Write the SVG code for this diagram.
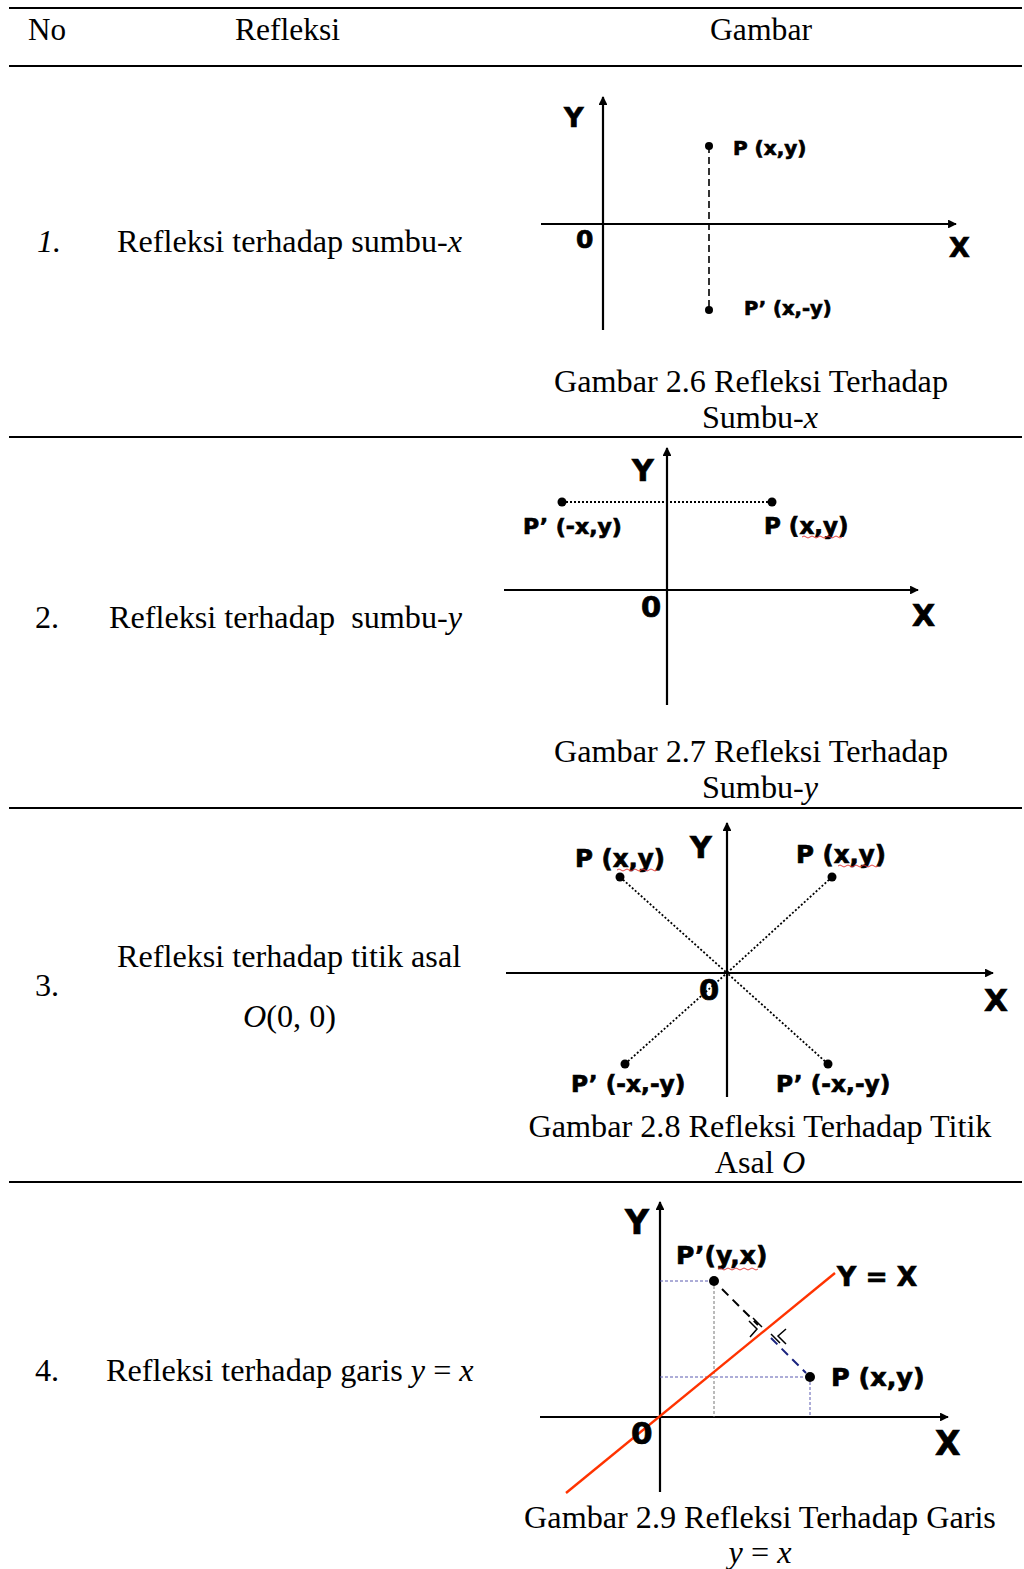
<svg xmlns="http://www.w3.org/2000/svg" width="1024" height="1569" viewBox="0 0 1024 1569">
<defs>
<style>
.rule{stroke:#000;stroke-width:2.2;fill:none}
.serif{font-family:"Liberation Serif","Times New Roman",serif;font-size:32.2px;fill:#000}
.it{font-style:italic}
.lab{font-family:"DejaVu Sans",Verdana,sans-serif;font-weight:bold;fill:#000;stroke:#000;stroke-width:0.7}
.ax{stroke:#000;stroke-width:2.2;fill:none}
.dot{fill:#000}
.sq{stroke:#e03030;stroke-width:0.9;fill:none}
</style>
<marker id="ah" viewBox="0 0 10 10" refX="9" refY="5" markerWidth="4" markerHeight="4" orient="auto" markerUnits="strokeWidth">
<path d="M0,0 L10,5 L0,10 z" fill="#000"/>
</marker>
</defs>
<rect width="1024" height="1569" fill="#fff"/>

<g id="table-rules">
<line class="rule" x1="9" y1="8" x2="1022" y2="8"/>
<line class="rule" x1="9" y1="66" x2="1022" y2="66"/>
<line class="rule" x1="9" y1="437" x2="1022" y2="437"/>
<line class="rule" x1="9" y1="808" x2="1022" y2="808"/>
<line class="rule" x1="9" y1="1182" x2="1022" y2="1182"/>
</g>

<g id="header">
<text class="serif" x="28" y="40" font-size="33" textLength="38" lengthAdjust="spacingAndGlyphs">No</text>
<text class="serif" x="235" y="40" font-size="33" textLength="105" lengthAdjust="spacingAndGlyphs">Refleksi</text>
<text class="serif" x="710" y="40" font-size="33" textLength="102" lengthAdjust="spacingAndGlyphs">Gambar</text>
</g>

<g id="row1-text">
<text class="serif it" x="37" y="252">1.</text>
<text class="serif" x="117" y="252">Refleksi terhadap sumbu-<tspan class="it">x</tspan></text>
<text class="serif" x="751" y="392" text-anchor="middle">Gambar 2.6 Refleksi Terhadap</text>
<text class="serif" x="760" y="428" text-anchor="middle">Sumbu-<tspan class="it">x</tspan></text>
</g>

<g id="row2-text">
<text class="serif" x="35" y="628">2.</text>
<text class="serif" x="109" y="628" xml:space="preserve">Refleksi terhadap  sumbu-<tspan class="it">y</tspan></text>
<text class="serif" x="751" y="762" text-anchor="middle">Gambar 2.7 Refleksi Terhadap</text>
<text class="serif" x="760" y="798" text-anchor="middle">Sumbu-<tspan class="it">y</tspan></text>
</g>

<g id="row3-text">
<text class="serif" x="35" y="996">3.</text>
<text class="serif" x="117" y="967">Refleksi terhadap titik asal</text>
<text class="serif" x="243" y="1027"><tspan class="it">O</tspan>(0, 0)</text>
<text class="serif" x="760" y="1137" text-anchor="middle">Gambar 2.8 Refleksi Terhadap Titik</text>
<text class="serif" x="760" y="1173" text-anchor="middle">Asal <tspan class="it">O</tspan></text>
</g>

<g id="row4-text">
<text class="serif" x="35" y="1381">4.</text>
<text class="serif" x="106" y="1381">Refleksi terhadap garis <tspan class="it">y</tspan> = <tspan class="it">x</tspan></text>
<text class="serif" x="760" y="1528" text-anchor="middle">Gambar 2.9 Refleksi Terhadap Garis</text>
<text class="serif" x="760" y="1563" text-anchor="middle"><tspan class="it">y</tspan> = <tspan class="it">x</tspan></text>
</g>

<!-- Graph 1 -->
<g id="graph1">
<line class="ax" x1="603" y1="330" x2="603" y2="97" marker-end="url(#ah)"/>
<line class="ax" x1="541" y1="224" x2="956" y2="224" marker-end="url(#ah)"/>
<line x1="709" y1="146" x2="709" y2="310" stroke="#000" stroke-width="1.6" stroke-dasharray="7 4"/>
<circle class="dot" cx="709" cy="146" r="4"/>
<circle class="dot" cx="709" cy="310" r="4"/>
<text class="lab" x="564" y="127" font-size="27">Y</text>
<text class="lab" x="576" y="248" font-size="25">0</text>
<text class="lab" x="949" y="257" font-size="27">X</text>
<text class="lab" x="733" y="155" font-size="20">P (x,y)</text>
<text class="lab" x="744" y="315" font-size="19.5">P’ (x,-y)</text>
</g>

<!-- Graph 2 -->
<g id="graph2">
<line class="ax" x1="667" y1="705" x2="667" y2="448" marker-end="url(#ah)"/>
<line class="ax" x1="504" y1="590" x2="918" y2="590" marker-end="url(#ah)"/>
<line x1="562" y1="502" x2="772" y2="502" stroke="#000" stroke-width="1.8" stroke-dasharray="2 2"/>
<circle class="dot" cx="562" cy="502" r="4.5"/>
<circle class="dot" cx="772" cy="502" r="4.5"/>
<text class="lab" x="632" y="481" font-size="30">Y</text>
<text class="lab" x="641" y="617" font-size="29">0</text>
<text class="lab" x="912" y="626" font-size="30">X</text>
<text class="lab" x="523" y="534" font-size="22">P’ (-x,y)</text>
<text class="lab" x="764" y="534" font-size="23">P (x,y)</text>
<path class="sq" d="M802,537 q2,-2 4,0 t4,0 t4,0 t4,0 t4,0 t4,0 t4,0 t4,0 t4,0 t4,0"/>
</g>

<!-- Graph 3 -->
<g id="graph3">
<line class="ax" x1="727" y1="1097" x2="727" y2="823" marker-end="url(#ah)"/>
<line class="ax" x1="506" y1="973" x2="993" y2="973" marker-end="url(#ah)"/>
<g stroke="#000" stroke-width="1.8" stroke-dasharray="2 2">
<line x1="620" y1="877" x2="727" y2="973"/>
<line x1="832" y1="877" x2="727" y2="973"/>
<line x1="625" y1="1064" x2="727" y2="973"/>
<line x1="828" y1="1064" x2="727" y2="973"/>
</g>
<circle class="dot" cx="620" cy="877" r="4.5"/>
<circle class="dot" cx="832" cy="877" r="4.5"/>
<circle class="dot" cx="625" cy="1064" r="4.5"/>
<circle class="dot" cx="828" cy="1064" r="4.5"/>
<text class="lab" x="690" y="858" font-size="30">Y</text>
<text class="lab" x="699" y="1000" font-size="29">0</text>
<text class="lab" x="984" y="1011" font-size="31">X</text>
<text class="lab" x="575" y="867" font-size="24.5">P (x,y)</text>
<text class="lab" x="796" y="863" font-size="24.5">P (x,y)</text>
<text class="lab" x="571" y="1092" font-size="23.3">P’ (-x,-y)</text>
<text class="lab" x="776" y="1092" font-size="23.3">P’ (-x,-y)</text>
<path class="sq" d="M617,870 q2,-2 4,0 t4,0 t4,0 t4,0 t4,0 t4,0 t4,0 t4,0 t4,0 t4,0"/>
<path class="sq" d="M838,866 q2,-2 4,0 t4,0 t4,0 t4,0 t4,0 t4,0 t4,0 t4,0 t4,0 t4,0"/>
</g>

<!-- Graph 4 -->
<g id="graph4">
<line class="ax" x1="660" y1="1492" x2="660" y2="1202" marker-end="url(#ah)"/>
<line class="ax" x1="540" y1="1417" x2="948" y2="1417" marker-end="url(#ah)"/>
<g stroke-width="1" stroke-dasharray="3 2" fill="none">
<line x1="660" y1="1281" x2="714" y2="1281" stroke="#5a5ab0"/>
<line x1="714" y1="1281" x2="714" y2="1417" stroke="#777"/>
<line x1="660" y1="1377" x2="810" y2="1377" stroke="#5a5ab0"/>
<line x1="810" y1="1377" x2="810" y2="1417" stroke="#5a5ab0"/>
</g>
<line x1="566" y1="1493" x2="835" y2="1273" stroke="#ff3300" stroke-width="2.4"/>
<line x1="722" y1="1289" x2="758" y2="1325" stroke="#000" stroke-width="2" stroke-dasharray="9 6"/>
<line x1="771" y1="1338" x2="806" y2="1373" stroke="#1a237e" stroke-width="2" stroke-dasharray="9 6"/>
<g stroke="#000" stroke-width="1.5" fill="none">
<polyline points="749,1321 757,1329 750,1337"/>
<line x1="753" y1="1318" x2="762" y2="1327"/>
<polyline points="786,1329 778,1336 786,1344"/>
<line x1="771" y1="1334" x2="780" y2="1343"/>
</g>
<circle class="dot" cx="714" cy="1281" r="5"/>
<circle class="dot" cx="810" cy="1377" r="5"/>
<text class="lab" x="625" y="1234" font-size="33">Y</text>
<text class="lab" x="631" y="1444" font-size="31">0</text>
<text class="lab" x="935" y="1455" font-size="33">X</text>
<text class="lab" x="676" y="1264" font-size="25">P’(y,x)</text>
<text class="lab" x="837" y="1286" font-size="26.5">Y = X</text>
<text class="lab" x="831" y="1386" font-size="25.5">P (x,y)</text>
<path class="sq" d="M718,1269 q2,-2 4,0 t4,0 t4,0 t4,0 t4,0 t4,0 t4,0 t4,0 t4,0 t4,0"/>
</g>
</svg>
